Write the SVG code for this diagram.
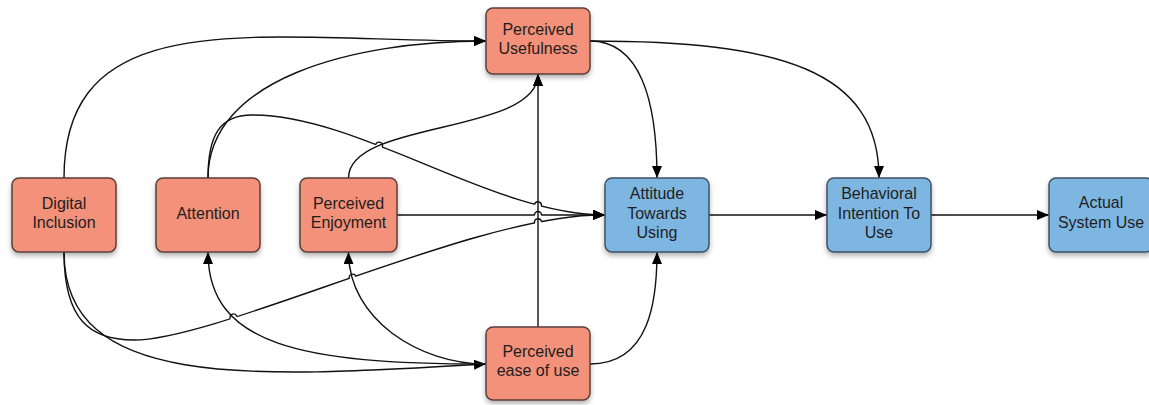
<svg xmlns="http://www.w3.org/2000/svg" width="1149" height="405" viewBox="0 0 1149 405">
<style>
.box{stroke-width:1.5;filter:url(#sh)}
.r{fill:#F3917A;stroke:#5b3f38}
.b{fill:#7EB6E2;stroke:#3e5366}
text{font-family:"Liberation Sans",Arial,sans-serif;font-size:16px;fill:#1e1e1e;text-anchor:middle}
.e{fill:none;stroke:#111;stroke-width:1.4}
.a{marker-end:url(#ah)}
.er{fill:none;stroke:#fff;stroke-width:4;stroke-linecap:butt}
</style>
<defs>
<filter id="sh" x="-20%" y="-20%" width="140%" height="150%">
<feDropShadow dx="0" dy="3" stdDeviation="2.5" flood-color="#000" flood-opacity="0.3"/>
</filter>
<marker id="ah" markerUnits="userSpaceOnUse" markerWidth="13" markerHeight="11" refX="12" refY="5" orient="auto">
<path d="M0,0 L12,5 L0,10 z" fill="#000"/>
</marker>
</defs>
<g id="connectors">
<path class="e a" d="M64,178 C64,0 260,41 486,41"/>
<path class="e a" d="M208,178 C208,80 350,41 486,41"/>
<path class="e a" d="M208,178 C208,135 220,115 252,115 C360,115 493,215 605,215"/>
<path class="e a" d="M397,215 L605,215"/>
<path class="e a" d="M64,252 C64,320 90,340 134,340 C220,340 480,212 605,215"/>
<path class="e a" d="M64,252 C64,390 250,378 486,364"/>
<path class="e a" d="M590,41 C640,41 657,100 657,178"/>
<path class="e a" d="M590,41 C780,41 879,70 879,178"/>
<path class="e a" d="M709,215 L827,215"/>
<path class="e a" d="M931,215 L1049,215"/>
<path class="e a" d="M590,364 C650,364 657,300 657,252"/>
<g id="hop-erase">
<path class="er" d="M375.9,144.5 L382.1,146.9"/>
<path class="er" d="M534.9,204.4 L541.1,206.0"/>
<path class="er" d="M534.8,215 L541.2,215"/>
<path class="er" d="M534.9,222.7 L541.1,221.5"/>
<path class="er" d="M230.4,318.5 L236.6,316.5"/>
<path class="er" d="M349.7,278.6 L355.7,276.6"/>
</g>
<path class="e a" d="M538,327 L538,74"/>
<path class="e a" d="M348.5,178 C348.5,120 538,135 538,74"/>
<path class="e a" d="M486,364 C300,364 208,345 208,252"/>
<path class="e a" d="M486,364 C420,364 348.5,320 348.5,252"/>
<g id="hops">
<path class="e" d="M375.7,144.45 A3.5,3.5 0 0 1 382.3,146.95"/>
<path class="e" d="M534.62,204.31 A3.5,3.5 0 0 1 541.38,206.09"/>
<path class="e" d="M534.5,215 A3.5,3.5 0 0 1 541.5,215"/>
<path class="e" d="M534.57,222.78 A3.5,3.5 0 0 1 541.43,221.42"/>
<path class="e" d="M230.16,318.56 A3.5,3.5 0 0 1 236.84,316.44"/>
<path class="e" d="M349.39,278.75 A3.5,3.5 0 0 1 356.01,276.45"/>
</g>
</g>
<g id="perceived-usefulness">
<rect class="box r" x="486" y="8" width="104" height="66" rx="7"/>
<text x="538" y="35">Perceived</text>
<text x="538" y="54">Usefulness</text>
</g>
<g id="digital-inclusion">
<rect class="box r" x="12" y="178" width="104" height="74" rx="7"/>
<text x="64" y="209">Digital</text>
<text x="64" y="228">Inclusion</text>
</g>
<g id="attention">
<rect class="box r" x="156" y="178" width="104" height="74" rx="7"/>
<text x="208" y="219">Attention</text>
</g>
<g id="perceived-enjoyment">
<rect class="box r" x="300" y="178" width="97" height="74" rx="7"/>
<text x="348.5" y="209">Perceived</text>
<text x="348.5" y="228">Enjoyment</text>
</g>
<g id="attitude-towards-using">
<rect class="box b" x="605" y="178" width="104" height="74" rx="7"/>
<text x="657" y="199">Attitude</text>
<text x="657" y="218.5">Towards</text>
<text x="657" y="238">Using</text>
</g>
<g id="behavioral-intention">
<rect class="box b" x="827" y="178" width="104" height="74" rx="7"/>
<text x="879" y="199">Behavioral</text>
<text x="879" y="218.5">Intention To</text>
<text x="879" y="238">Use</text>
</g>
<g id="actual-system-use">
<rect class="box b" x="1049" y="178" width="104" height="74" rx="7"/>
<text x="1101" y="208">Actual</text>
<text x="1101" y="228">System Use</text>
</g>
<g id="perceived-ease-of-use">
<rect class="box r" x="486" y="327" width="104" height="73" rx="7"/>
<text x="538" y="357">Perceived</text>
<text x="538" y="376">ease of use</text>
</g>
</svg>
